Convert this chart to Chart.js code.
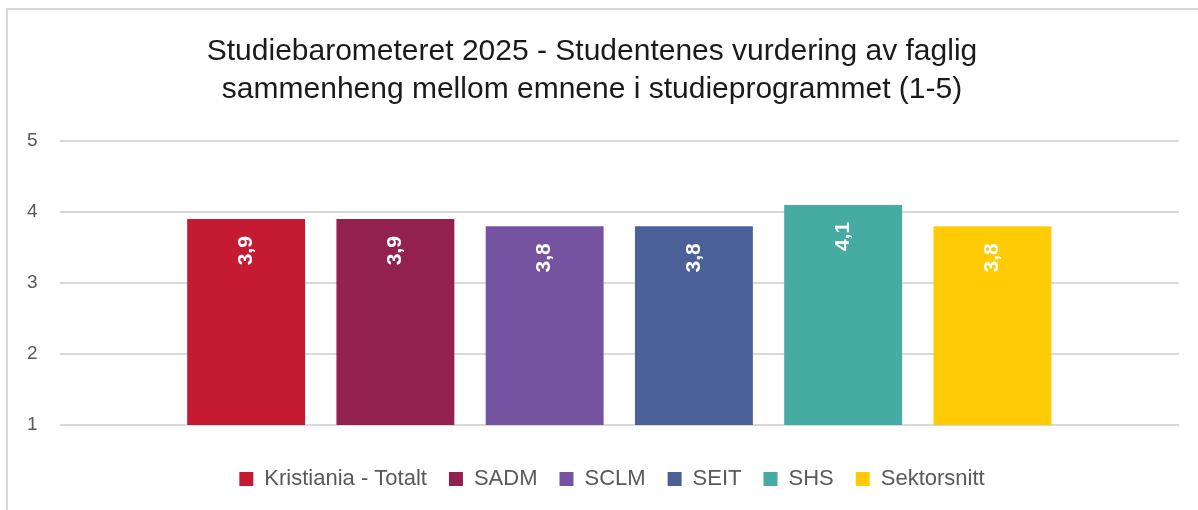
<!DOCTYPE html>
<html>
<head>
<meta charset="utf-8">
<script src="https://cdn.jsdelivr.net/npm/chart.js@4/dist/chart.umd.min.js"></script>
<style>
    html, body { margin: 0; padding: 0; background: #fff; }
    #wrap { position: relative; width: 1198px; height: 510px; }
    #frame {
        position: absolute; left: 6px; top: 8px; right: 0; bottom: 0;
        border-top: 2px solid #d9d9d9; border-left: 2px solid #d9d9d9;
        pointer-events: none;
    }
</style>
</head>
<body>
<div id="wrap">
    <canvas id="chart" width="1198" height="510"></canvas>
    <div id="frame"></div>
</div>
<script>
// Data
const titleLines = [
    'Studiebarometeret 2025 - Studentenes vurdering av faglig',
    'sammenheng mellom emnene i studieprogrammet (1-5)'
];
const seriesNames = ['Kristiania - Totalt', 'SADM', 'SCLM', 'SEIT', 'SHS', 'Sektorsnitt'];
const seriesValues = [3.9, 3.9, 3.8, 3.8, 4.1, 3.8];
const seriesColors = ['#c41a32', '#922150', '#7653a1', '#4a6097', '#45aba3', '#ffcb05'];
const yTicks = [1, 2, 3, 4, 5];

const FONT = 'Liberation Sans, Arial, sans-serif';

// Value labels written vertically near the top of each bar
const barLabels = {
    id: 'barLabels',
    afterDatasetsDraw(chart) {
        const ctx = chart.ctx;
        chart.data.datasets.forEach((ds, i) => {
            const meta = chart.getDatasetMeta(i);
            meta.data.forEach((bar, j) => {
                const text = ds.data[j].toFixed(1).replace('.', ',');
                ctx.save();
                ctx.translate(bar.x, bar.y + 17);
                ctx.rotate(-Math.PI / 2);
                ctx.font = 'bold 21px ' + FONT;
                ctx.fillStyle = '#ffffff';
                ctx.textAlign = 'right';
                ctx.textBaseline = 'middle';
                ctx.fillText(text, 0, 0);
                ctx.restore();
            });
        });
    }
};

// nudge the legend a bit right, Excel centres it on the plot
const legendShift = {
    id: 'legendShift',
    afterLayout(chart) {
        chart.legend.left += 20;
        chart.legend.right += 20;
    }
};

const datasets = seriesNames.map((name, i) => ({
    label: name,
    data: [seriesValues[i]],
    backgroundColor: seriesColors[i],
    borderWidth: 0,
    categoryPercentage: 0.8,
    barPercentage: 0.79
}));

new Chart(document.getElementById('chart'), {
    type: 'bar',
    data: { labels: [''], datasets: datasets },
    plugins: [barLabels, legendShift],
    options: {
        responsive: false,
        animation: false,
        layout: { padding: { left: 5, right: 19, top: 20, bottom: 10 } },
        plugins: {
            title: {
                display: true,
                text: titleLines,
                color: '#1a1a1a',
                font: { family: FONT, size: 30, weight: 'normal', lineHeight: 1.267 },
                padding: { top: 13, bottom: 32 }
            },
            legend: {
                position: 'bottom',
                labels: {
                    color: '#595959',
                    font: { family: FONT, size: 22 },
                    boxWidth: 14,
                    boxHeight: 14,
                    padding: 22
                }
            },
            tooltip: { enabled: false }
        },
        scales: {
            x: {
                grid: { display: false },
                border: { display: false },
                ticks: { display: false },
                afterFit: (axis) => { axis.height = 21; }
            },
            y: {
                min: 1,
                max: 5,
                afterBuildTicks: (axis) => { axis.ticks = yTicks.map(v => ({ value: v })); },
                grid: { color: '#d9d9d9', lineWidth: 2, drawTicks: false },
                border: { display: false },
                ticks: {
                    color: '#595959',
                    font: { family: FONT, size: 19 },
                    padding: 22
                }
            }
        }
    }
});
</script>
</body>
</html>
